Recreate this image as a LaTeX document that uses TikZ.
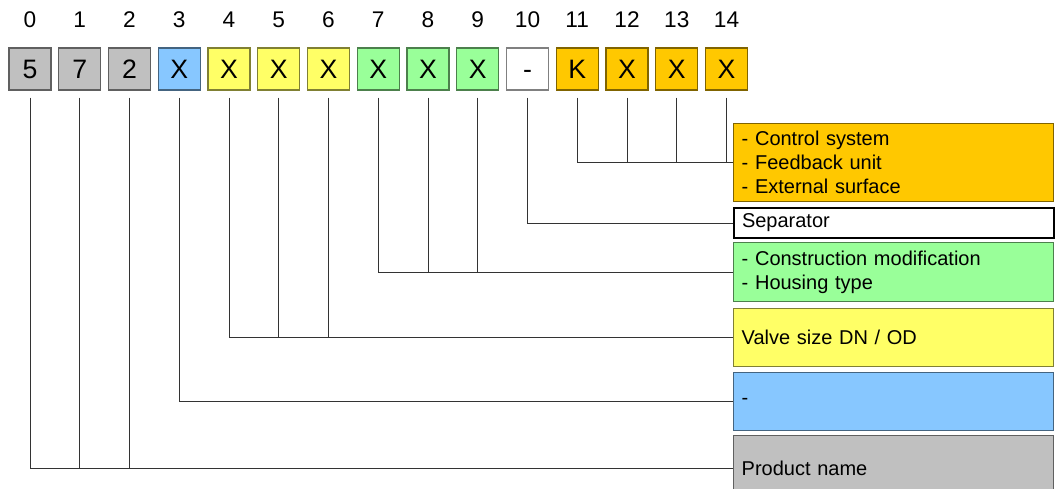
\documentclass[tikz,border=0pt]{standalone}
\usepackage{fontspec}
\setmainfont{Liberation Sans}
\usetikzlibrary{positioning}
\definecolor{codegrey}{RGB}{192,192,192}
\definecolor{codeblue}{RGB}{135,199,255}
\definecolor{codeyellow}{RGB}{255,255,102}
\definecolor{codegreen}{RGB}{153,255,153}
\definecolor{codeorange}{RGB}{255,200,0}

\tikzset{
  digit/.style={draw=#1!50!black, fill=#1, line width=1pt, minimum size=31.5pt,
    inner sep=0pt, text height=14.3pt, text depth=0pt,
    font=\fontsize{20}{24}\selectfont},
  idx/.style={font=\fontsize{17}{20}\selectfont},
  infobox/.style={draw=#1!50!black, fill=#1, line width=1.1pt, minimum width=240pt,
    text width=228pt, inner xsep=6pt, align=left, anchor=north west,
    font=\fontsize{15}{18}\selectfont},
  leader/.style={line width=0.75pt, black!80}
}

\begin{document}
\begin{tikzpicture}[x=0.75pt, y=-0.75pt]
        \useasboundingbox (0,0) rectangle (1057,489);

        % Code positions and their numbers
        \foreach \i/\c/\t in {0/codegrey/5, 1/codegrey/7, 2/codegrey/2, 3/codeblue/X,
            4/codeyellow/X, 5/codeyellow/X, 6/codeyellow/X, 7/codegreen/X,
            8/codegreen/X, 9/codegreen/X, 10/white/-, 11/codeorange/K,
            12/codeorange/X, 13/codeorange/X, 14/codeorange/X} {
            \node[digit=\c] (b\i) at (30+49.75*\i, 69) {\t};
            \node[idx] (n\i) at (30+49.75*\i, 20) {\i};
        }

        % Meaning boxes
        \node[infobox=codeorange, minimum height=58.5pt] (ctrl) at (733,123)
            {- Control system\\- Feedback unit\\- External surface};
        \node[infobox=white, draw=black, line width=1.5pt, minimum height=22.5pt] (sep) at (733,207)
            {Separator};
        \node[infobox=codegreen, minimum height=44.25pt] (constr) at (733,242)
            {- Construction modification\\- Housing type};
        \node[infobox=codeyellow, minimum height=43.5pt] (size) at (733,308)
            {Valve size DN / OD};
        \node[infobox=codeblue, minimum height=43.5pt] (blank) at (733,372)
            {-};
        \node[infobox=codegrey, minimum height=49.5pt] (prod) at (733,435)
            {Product name};

        % Leader lines
        \foreach \i in {11,...,14}
            \draw[leader] ([yshift=-5.25pt]b\i.south) |- (ctrl.west);
        \draw[leader] ([yshift=-5.25pt]b10.south) |- (sep.west);
        \foreach \i in {7,8,9}
            \draw[leader] ([yshift=-5.25pt]b\i.south) |- (constr.west);
        \foreach \i in {4,5,6}
            \draw[leader] ([yshift=-5.25pt]b\i.south) |- (size.west);
        \draw[leader] ([yshift=-5.25pt]b3.south) |- (blank.west);
        \foreach \i in {0,1,2}
            \draw[leader] ([yshift=-5.25pt]b\i.south) |- (prod.west);
    \end{tikzpicture}
\end{document}
